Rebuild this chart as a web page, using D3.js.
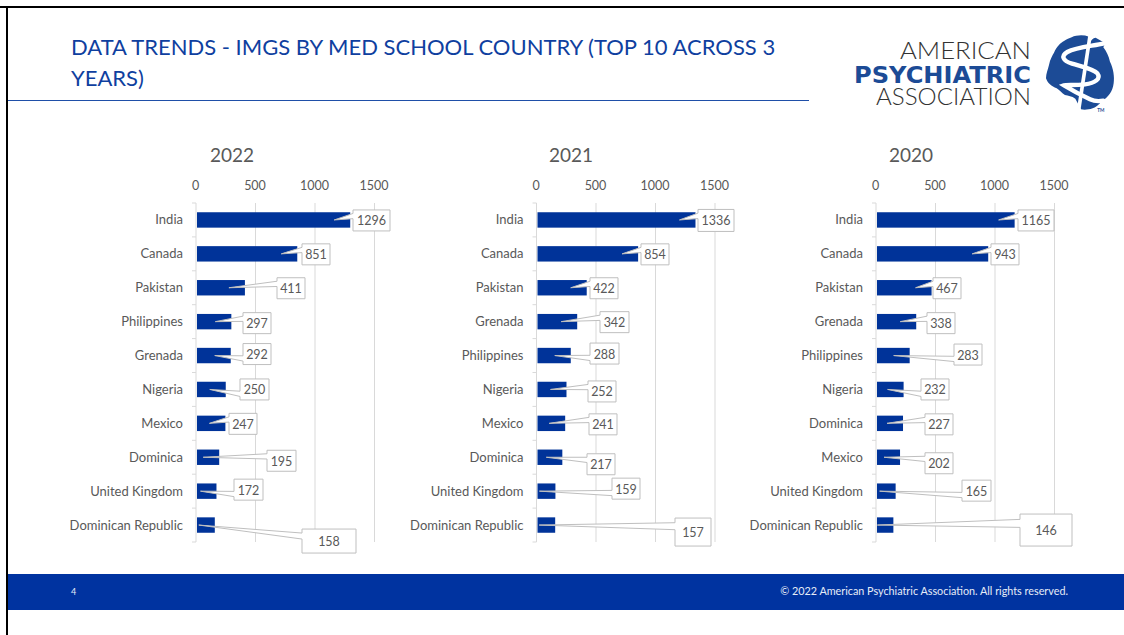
<!DOCTYPE html>
<html>
<head>
<meta charset="utf-8">
<script src="https://cdn.jsdelivr.net/npm/d3@7/dist/d3.min.js"></script>
<style>
  html, body { margin: 0; padding: 0; background: #fff; }
  svg { display: block; font-family: Lato, "Open Sans", sans-serif; }
</style>
</head>
<body>
<svg id="slide" width="1124" height="635"></svg>
<script>
// Residency applicants by country of medical school, one list per year
const categories2022 = ["India", "Canada", "Pakistan", "Philippines", "Grenada", "Nigeria", "Mexico", "Dominica", "United Kingdom", "Dominican Republic"];
const values2022 = [1296, 851, 411, 297, 292, 250, 247, 195, 172, 158];

const categories2021 = ["India", "Canada", "Pakistan", "Grenada", "Philippines", "Nigeria", "Mexico", "Dominica", "United Kingdom", "Dominican Republic"];
const values2021 = [1336, 854, 422, 342, 288, 252, 241, 217, 159, 157];

const categories2020 = ["India", "Canada", "Pakistan", "Grenada", "Philippines", "Nigeria", "Dominica", "Mexico", "United Kingdom", "Dominican Republic"];
const values2020 = [1165, 943, 467, 338, 283, 232, 227, 202, 165, 146];

const tickValues = [0, 500, 1000, 1500];

// Data-label placement: [left from axis zero, top from row centre, width, height]
const labelBoxes2022 = [[157,-10,37,21],[106,-10,28,21],[81,-10,28,21],[47,-9,28,21],[47,-12,28,21],[44,-10.5,29,21],[33,-10,28,21],[71,-7,29,21],[38,-12,29,21],[106,4,54,24]];
const labelBoxes2021 = [[161.5,-10.5,36,22],[104.5,-10,28,21],[53.5,-10,28,21],[63.5,-10,29,21],[53.5,-12.5,29,21],[51.5,-8.5,28,21],[52.5,-9.5,28,21],[50.5,-3.5,28,21],[75.5,-13,28,21],[138.5,-7,36,28]];
const labelBoxes2020 = [[142,-10,36,21],[115,-10,28,21],[57,-10,28,21],[51,-9,28,21],[78,-11.5,28,21],[45,-10.5,28,21],[49,-9.5,28,21],[49,-4.5,28,21],[86,-11,29,21],[144,-11,52,32]];

const panels = [
  { year: "2022", categories: categories2022, values: values2022, boxes: labelBoxes2022, left: 196, titleX: 232 },
  { year: "2021", categories: categories2021, values: values2021, boxes: labelBoxes2021, left: 536.5, titleX: 571 },
  { year: "2020", categories: categories2020, values: values2020, boxes: labelBoxes2020, left: 876, titleX: 911 }
];

const BLUE = "#003399";
const GREY = "#595959";
const svg = d3.select("#slide");

// Slide frame and heading
svg.append("rect").attr("x", 0).attr("y", 6).attr("width", 1124).attr("height", 2).attr("fill", "#000");
svg.append("rect").attr("x", 6).attr("y", 6).attr("width", 2).attr("height", 629).attr("fill", "#000");

const heading = svg.append("g").attr("fill", "#0f3f9f").attr("font-size", 22);
heading.append("text").attr("x", 71).attr("y", 55).text("DATA TRENDS - IMGS BY MED SCHOOL COUNTRY (TOP 10 ACROSS 3");
heading.append("text").attr("x", 71).attr("y", 86).text("YEARS)");
svg.append("line").attr("x1", 8).attr("x2", 809).attr("y1", 100.5).attr("y2", 100.5).attr("stroke", "#1f4fa8").attr("stroke-width", 1);

// Association wordmark
const logo = svg.append("g").attr("text-anchor", "start");
[
  { t: "AMERICAN", x: 900, y: 59, len: 131, size: 23, weight: 300, fill: "#333", font: "Lato" },
  { t: "PSYCHIATRIC", x: 854, y: 83, len: 177, size: 23.5, weight: 700, fill: "#1c4b96", font: "DejaVu Sans" },
  { t: "ASSOCIATION", x: 876, y: 105, len: 155, size: 23, weight: 300, fill: "#333", font: "Lato" }
].forEach(d => {
  logo.append("text").attr("x", d.x).attr("y", d.y)
    .attr("font-family", d.font).attr("font-size", d.size).attr("font-weight", d.weight).attr("fill", d.fill)
    .attr("textLength", d.len).attr("lengthAdjust", "spacingAndGlyphs").text(d.t);
});

// Brain-and-staff emblem, drawn in its own 3x grid
const emblem = svg.append("g").attr("transform", "translate(1040,30) scale(0.3333)");
emblem.append("path")
  .attr("d", "M95,22 C110,15 130,14 147,20 L153,32 C158,26 162,23 167,23 L196,40 L190,52 C200,65 206,78 210,95 C220,115 224,140 221,160 C218,185 205,200 186,214 C176,225 165,233 158,235 C145,240 130,240 123,238 L106,206 C95,198 85,198 75,195 C66,190 58,180 50,175 C35,170 22,158 18,145 C18,130 24,118 27,105 C30,88 38,75 42,68 C50,50 62,38 72,33 C80,28 88,25 95,22 Z")
  .attr("fill", "#1c4b96");
emblem.append("path")
  .attr("d", "M150,18 L116,240")
  .attr("stroke", "#fff").attr("stroke-width", 11).attr("fill", "none");
emblem.append("path")
  .attr("d", "M192,40 C160,48 110,50 82,66 C62,78 68,92 96,101 C125,110 158,116 172,130 C184,146 165,160 135,163 C105,166 78,164 72,166 C95,180 125,196 150,208 C165,215 178,214 190,212")
  .attr("stroke", "#fff").attr("stroke-width", 13).attr("fill", "none").attr("stroke-linecap", "round");
emblem.append("text").attr("x", 172).attr("y", 246).attr("font-size", 14).attr("font-weight", 700).attr("fill", "#1c4b96").text("TM");

// Pointer-box outline: box plus a wedge leaving the left side towards the tip
function calloutPath(x, y, w, h, tipX, tipY) {
  const lower = tipY >= y + h / 2;
  const a = y + h * (lower ? 7 / 12 : 2 / 12);
  const b = y + h * (lower ? 10 / 12 : 5 / 12);
  const p = d3.path();
  p.moveTo(x, y);
  p.lineTo(x + w, y);
  p.lineTo(x + w, y + h);
  p.lineTo(x, y + h);
  p.lineTo(x, b);
  p.lineTo(tipX, tipY);
  p.lineTo(x, a);
  p.closePath();
  return p.toString();
}

// One bar chart per year
panels.forEach(panel => {
  const x = d3.scaleLinear().domain([0, 1500]).range([panel.left, panel.left + 178.5]);
  const y = d3.scaleBand().domain(panel.categories).range([203, 542]).paddingInner(0.5455).paddingOuter(0.2727);
  const step = y.step();
  const g = svg.append("g");

  g.append("text").attr("x", panel.titleX).attr("y", 162).attr("text-anchor", "middle")
    .attr("font-size", 19).attr("fill", GREY).text(panel.year);

  // Value gridlines
  g.append("g").selectAll("line").data(tickValues.slice(1)).join("line")
    .attr("x1", d => x(d)).attr("x2", d => x(d)).attr("y1", 203).attr("y2", 542)
    .attr("stroke", "#d9d9d9").attr("stroke-width", 1);

  // Value axis along the top
  const top = g.append("g").attr("transform", "translate(-1,193)")
    .call(d3.axisTop(x).tickValues(tickValues).tickFormat(d3.format("d")).tickSize(0));
  top.select(".domain").remove();
  top.selectAll("text").attr("font-family", "Lato").attr("font-size", 12.5).attr("fill", GREY);

  // Category axis with ticks between rows
  const leftAxis = g.append("g").attr("transform", `translate(${panel.left},0.3)`)
    .call(d3.axisLeft(y).tickSize(0).tickPadding(13));
  leftAxis.select(".domain").remove();
  leftAxis.selectAll("text").attr("font-family", "Lato").attr("font-size", 13).attr("fill", GREY);
  g.append("line").attr("x1", panel.left).attr("x2", panel.left).attr("y1", 203).attr("y2", 542).attr("stroke", "#d9d9d9");
  g.append("g").selectAll("line").data(d3.range(panel.categories.length + 1)).join("line")
    .attr("x1", panel.left - 4).attr("x2", panel.left)
    .attr("y1", i => 203 + i * step).attr("y2", i => 203 + i * step)
    .attr("stroke", "#d9d9d9");

  const rows = panel.categories.map((c, i) => ({ c, v: panel.values[i], box: panel.boxes[i] }));

  // Bars
  g.append("g").selectAll("rect").data(rows).join("rect")
    .attr("x", x(0) + 1).attr("y", d => y(d.c))
    .attr("width", d => x(d.v) - x(0) - 1).attr("height", y.bandwidth())
    .attr("fill", BLUE);

  // Value labels in pointer boxes
  const labels = g.append("g").selectAll("g").data(rows).join("g");
  labels.append("path")
    .attr("d", d => {
      const cy = y(d.c) + y.bandwidth() / 2;
      const [dx, dy, w, h] = d.box;
      return calloutPath(x(0) + dx, cy + dy, w, h, x(d.v) - 16, cy);
    })
    .attr("fill", "#fff").attr("stroke", "#bfbfbf").attr("stroke-width", 1);
  labels.append("text")
    .attr("x", d => x(0) + d.box[0] + d.box[2] / 2)
    .attr("y", d => y(d.c) + y.bandwidth() / 2 + d.box[1] + d.box[3] / 2 + 5)
    .attr("text-anchor", "middle").attr("font-size", 12.5).attr("fill", GREY)
    .text(d => d.v);
});

// Footer band
svg.append("rect").attr("x", 8).attr("y", 574).attr("width", 1116).attr("height", 36).attr("fill", "#0033a0");
svg.append("text").attr("x", 71).attr("y", 595).attr("font-size", 9).attr("fill", "#e6ecf7").text("4");
svg.append("text").attr("x", 1068).attr("y", 595).attr("text-anchor", "end").attr("font-size", 10.8)
  .attr("fill", "#e6ecf7").text("© 2022 American Psychiatric Association. All rights reserved.");
</script>
</body>
</html>
